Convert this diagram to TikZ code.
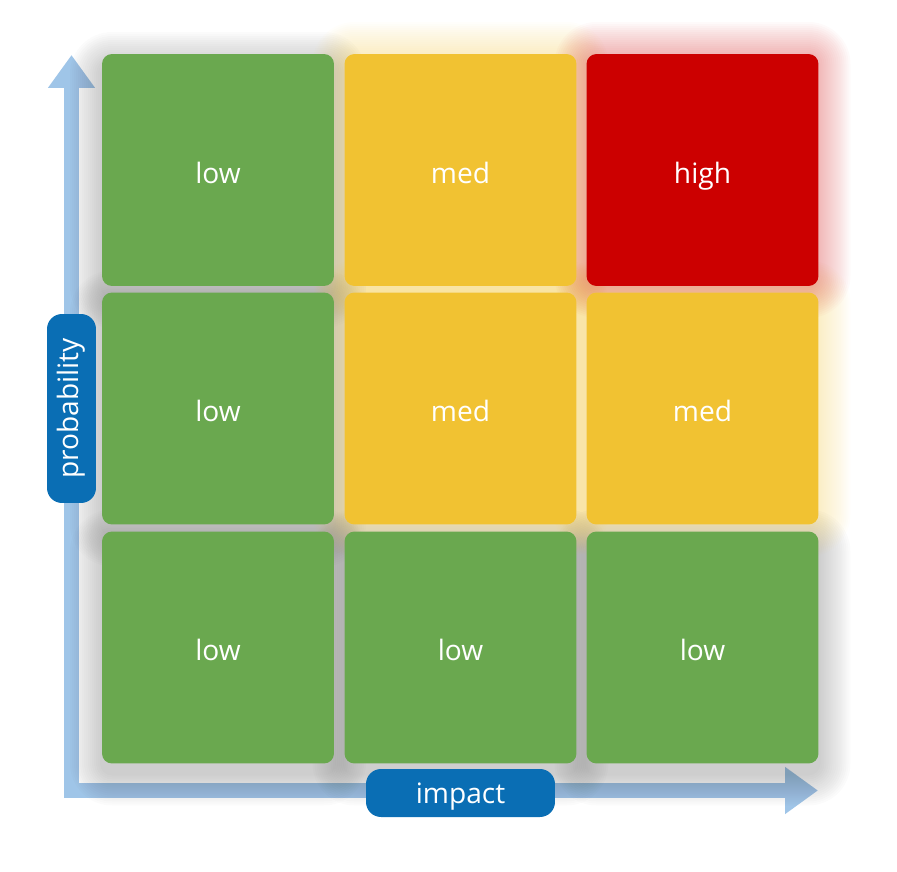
\documentclass[tikz,border=0pt]{standalone}
\usepackage{fontspec}
\setmainfont{Open Sans}
\usetikzlibrary{arrows.meta}

\definecolor{lowgreen}{HTML}{6AA84F}
\definecolor{medyellow}{HTML}{F1C232}
\definecolor{highred}{HTML}{CC0000}
\definecolor{axisblue}{HTML}{9FC5E8}
\definecolor{labelblue}{HTML}{0A6EB4}

\tikzset{
  cell/.style={rounded corners=0.2cm, minimum size=4.64cm, inner sep=0pt,
    text=white, font=\fontsize{16}{19}\selectfont,
    text height=17.8pt, text depth=3pt},
  lowcell/.style={cell, fill=lowgreen},
  medcell/.style={cell, fill=medyellow},
  highcell/.style={cell, fill=highred},
  axis/.style={draw=axisblue, line width=0.3cm, line join=miter,
    {Triangle[length=0.66cm, width=0.9cm]}-{Triangle[length=0.66cm, width=0.9cm]}},
  axislabel/.style={fill=labelblue, rounded corners=0.3cm, text=white,
    font=\fontsize{16}{19}\selectfont, inner sep=0pt}
}

% soft shadow behind a cell: centre x, centre y, colour, shift down
\newcommand\cellglow[4]{%
  \foreach \r [evaluate=\r as \rc using (10+\r)*0.02] in {2,4,...,32}
    \fill[#3, opacity=0.019, rounded corners=\rc cm]
      ({#1-116-\r},{#2-116-\r+#4}) rectangle ({#1+116+\r},{#2+116+\r+#4});
}

\begin{document}
\begin{tikzpicture}[x=0.02cm, y=-0.02cm]
\useasboundingbox (0,0) rectangle (897,872);

% axes
\coordinate (origin) at (71.5,790.5);
\coordinate (ptip) at (71.5,55);
\coordinate (itip) at (818,790.5);
\draw[axis] (ptip) -- (origin) -- (itip);

% shadows
\cellglow{218}{170}{black!70}{10}
\cellglow{218}{408.5}{black!70}{10}
\cellglow{218}{647.5}{black!70}{10}
\cellglow{460.5}{647.5}{black!70}{10}
\cellglow{702.5}{647.5}{black!70}{10}
\cellglow{460.5}{170}{medyellow}{0}
\cellglow{460.5}{408.5}{medyellow}{0}
\cellglow{702.5}{408.5}{medyellow}{0}
\cellglow{702.5}{170}{highred}{0}

% cells: p = probability row (3 top), i = impact column
\node[lowcell]  (p3i1) at (218,170)     {low};
\node[medcell]  (p3i2) at (460.5,170)   {med};
\node[highcell] (p3i3) at (702.5,170)   {high};
\node[lowcell]  (p2i1) at (218,408.5)   {low};
\node[medcell]  (p2i2) at (460.5,408.5) {med};
\node[medcell]  (p2i3) at (702.5,408.5) {med};
\node[lowcell]  (p1i1) at (218,647.5)   {low};
\node[lowcell]  (p1i2) at (460.5,647.5) {low};
\node[lowcell]  (p1i3) at (702.5,647.5) {low};

% axis labels
\node[axislabel, minimum width=3.78cm, minimum height=0.98cm,
  rotate=90] (problabel) at (71.5,408.5) {probability};
\node[axislabel, minimum width=3.78cm, minimum height=0.96cm,
  text height=14.4pt, text depth=3pt]
  (implabel) at (460.5,793) {impact};
\end{tikzpicture}
\end{document}
